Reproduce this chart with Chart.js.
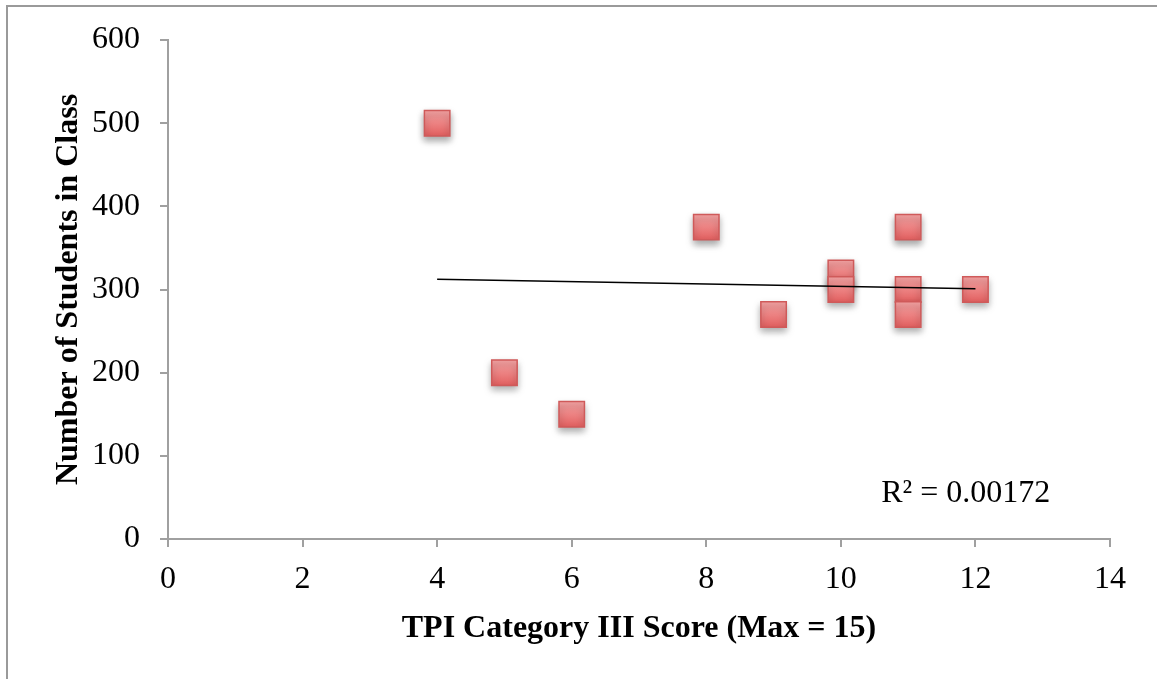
<!DOCTYPE html>
<html>
<head>
<meta charset="utf-8">
<script src="https://cdn.jsdelivr.net/npm/chart.js@4.4.0/dist/chart.umd.min.js"></script>
<style>
  html, body { margin: 0; padding: 0; background: #fff; }
  #wrap { position: relative; width: 1157px; height: 679px; }
  #frame { position: absolute; left: 6px; top: 5px; right: 0; bottom: 0;
           border-left: 2px solid #9a9a9a; border-top: 2px solid #9a9a9a; pointer-events: none; }
</style>
</head>
<body>
<div id="wrap">
  <canvas id="chart" width="1157" height="679"></canvas>
  <div id="frame"></div>
</div>
<script>
'use strict';

let canvasElem = document.getElementById('chart');

// TPI score vs class size
let tpiScores = [4, 5, 6, 8, 9, 10, 10, 11, 11, 11, 12];
let classSizes = [500, 200, 150, 375, 270, 320, 300, 375, 300, 270, 300];
let xTicks = [0, 2, 4, 6, 8, 10, 12, 14];
let yTicks = [0, 100, 200, 300, 400, 500, 600];
let rSquaredText = 'R\u00B2 = 0.00172';

// least squares trendline from the points
let n = tpiScores.length;
let mx = tpiScores.reduce((a, b) => a + b, 0) / n;
let my = classSizes.reduce((a, b) => a + b, 0) / n;
let sxy = 0, sxx = 0;
for (let i = 0; i < n; i++) {
  sxy += (tpiScores[i] - mx) * (classSizes[i] - my);
  sxx += (tpiScores[i] - mx) * (tpiScores[i] - mx);
}
let slope = sxy / sxx;
let intercept = my - slope * mx;
let xMin = Math.min(...tpiScores);
let xMax = Math.max(...tpiScores);
let trend = [
  { x: xMin, y: intercept + slope * xMin },
  { x: xMax, y: intercept + slope * xMax }
];

let points = [];
for (let i = 0; i < n; i++) {
  points.push({ x: tpiScores[i], y: classSizes[i] });
}

const axisGray = '#a0a0a0';
const serif = "'Liberation Serif', 'Times New Roman', serif";
const fontSize = 32;

// little vertical gradient on each square, like the original
function markerFill(c) {
  const chart = c.chart;
  if (!chart.chartArea || !c.parsed) return '#ee7d7d';
  const y = chart.scales.y.getPixelForValue(c.parsed.y);
  const g = chart.ctx.createLinearGradient(0, y - 13, 0, y + 13);
  g.addColorStop(0, '#f7a6a6');
  g.addColorStop(1, '#e25f5f');
  return g;
}

const shadowPlugin = {
  id: 'shadow',
  beforeDatasetDraw(chart, args) {
    if (args.index === 1) {
      const ctx = chart.ctx;
      ctx.save();
      ctx.shadowColor = 'rgba(0,0,0,0.35)';
      ctx.shadowBlur = 7;
      ctx.shadowOffsetY = 4;
    }
  },
  afterDatasetDraw(chart, args) {
    if (args.index === 1) chart.ctx.restore();
  }
};

const r2Plugin = {
  id: 'r2',
  afterDraw(chart) {
    const ctx = chart.ctx;
    const xs = chart.scales.x, ys = chart.scales.y;
    ctx.save();
    ctx.font = fontSize + 'px ' + serif;
    ctx.fillStyle = '#000';
    ctx.textAlign = 'left';
    ctx.textBaseline = 'middle';
    ctx.fillText(rSquaredText, xs.getPixelForValue(10.6), ys.getPixelForValue(55));
    ctx.restore();
  }
};

const data = {
  datasets: [
    {
      type: 'line',
      label: 'Trend',
      data: trend,
      borderColor: '#000',
      borderWidth: 1.6,
      pointRadius: 0,
      fill: false
    },
    {
      type: 'scatter',
      label: 'Class size',
      data: points,
      pointStyle: 'rect',
      pointRadius: 18,
      pointHoverRadius: 18,
      backgroundColor: markerFill,
      borderColor: '#cf5a5a',
      borderWidth: 1.5
    }
  ]
};

const config = {
  type: 'scatter',
  data: data,
  plugins: [shadowPlugin, r2Plugin],
  options: {
    responsive: false,
    animation: false,
    layout: { padding: { left: 50, top: 40, right: 47, bottom: 31 } },
    plugins: {
      legend: { display: false },
      tooltip: { enabled: false }
    },
    scales: {
      x: {
        type: 'linear',
        min: 0,
        max: 14,
        afterBuildTicks: (s) => { s.ticks = xTicks.map(v => ({ value: v })); },
        afterFit: (s) => { s.height = 109; },
        ticks: { color: '#000', font: { family: serif, size: fontSize }, padding: 13 },
        grid: { drawOnChartArea: false, drawTicks: true, tickLength: 8, color: axisGray, lineWidth: 2 },
        border: { color: axisGray, width: 2 },
        title: {
          display: true,
          text: 'TPI Category III Score (Max = 15)',
          color: '#000',
          font: { family: serif, size: fontSize, weight: 'bold' },
          padding: 0
        }
      },
      y: {
        min: 0,
        max: 600,
        afterBuildTicks: (s) => { s.ticks = yTicks.map(v => ({ value: v })); },
        afterFit: (s) => { s.width = 118; },
        ticks: { color: '#000', font: { family: serif, size: fontSize }, padding: 20 },
        grid: { drawOnChartArea: false, drawTicks: true, tickLength: 8, color: axisGray, lineWidth: 2 },
        border: { color: axisGray, width: 2 },
        title: {
          display: true,
          text: 'Number of Students in Class',
          color: '#000',
          font: { family: serif, size: fontSize, weight: 'bold' },
          padding: 0
        }
      }
    }
  }
};

new Chart(canvasElem, config);
</script>
</body>
</html>
